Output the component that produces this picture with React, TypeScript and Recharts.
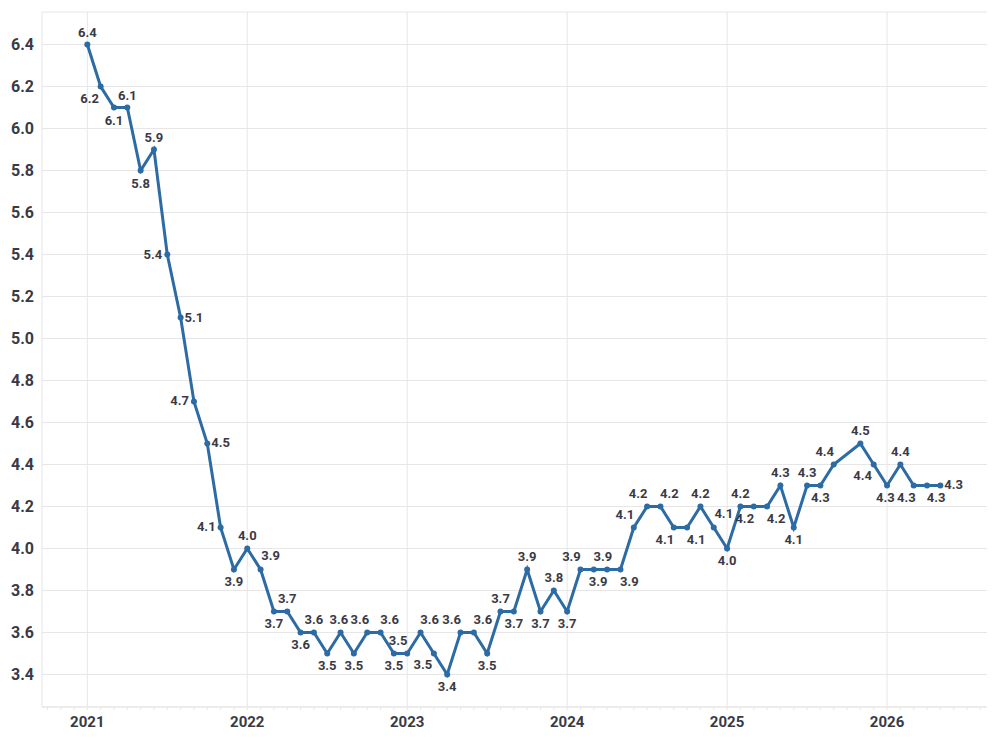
import {
  LineChart,
  Line,
  XAxis,
  YAxis,
  CartesianGrid,
  ReferenceLine,
  LabelList,
} from "recharts";

const years = [2021, 2022, 2023, 2024, 2025, 2026];

// monthly rate, one list per year (null = no release that month)
const rate2021 = [6.4, 6.2, 6.1, 6.1, 5.8, 5.9, 5.4, 5.1, 4.7, 4.5, 4.1, 3.9];
const rate2022 = [4.0, 3.9, 3.7, 3.7, 3.6, 3.6, 3.5, 3.6, 3.5, 3.6, 3.6, 3.5];
const rate2023 = [3.5, 3.6, 3.5, 3.4, 3.6, 3.6, 3.5, 3.7, 3.7, 3.9, 3.7, 3.8];
const rate2024 = [3.7, 3.9, 3.9, 3.9, 3.9, 4.1, 4.2, 4.2, 4.1, 4.1, 4.2, 4.1];
const rate2025 = [4.0, 4.2, 4.2, 4.2, 4.3, 4.1, 4.3, 4.3, 4.4, null, 4.5, 4.4];
const rate2026 = [4.3, 4.4, 4.3, 4.3, 4.3];

const yTicks = [3.4, 3.6, 3.8, 4.0, 4.2, 4.4, 4.6, 4.8, 5.0, 5.2, 5.4, 5.6, 5.8, 6.0, 6.2, 6.4];

const LINE = "#2c6ba4";
const GRID = "#e6e6e6";
const TEXT = "#3a3a46";

const W = 1000;
const H = 750;
const MARGIN = { top: 12, right: 13, bottom: 13, left: 0 };
const Y_AXIS_W = 42;
const X_AXIS_H = 30;
const X_DOMAIN = [-3.4, 67.5];
const Y_DOMAIN = [3.245, 6.555];

const data = [rate2021, rate2022, rate2023, rate2024, rate2025, rate2026]
  .flatMap((list, y) => list.map((v, m) => ({ t: y * 12 + m, v })))
  .filter((d) => d.v !== null) as { t: number; v: number }[];

const yearTicks = years.map((_, i) => i * 12);
const monthTicks: number[] = [];
for (let t = -3; t <= 67; t++) monthTicks.push(t);

// label placement: pick a side from the neighbours
const FORCE_TOP = new Set([24, 38]);
const sides: string[] = [];
data.forEach((d, i) => {
  const v = d.v;
  let s = "top";
  if (i === data.length - 1) s = "right";
  else if (i > 0) {
    const p = data[i - 1].v;
    const n = data[i + 1].v;
    if (FORCE_TOP.has(i)) s = "top";
    else if (p === v && v === n) s = "bottom";
    else if (v >= p && v >= n) s = "top";
    else if (v <= p && v <= n) s = "bottom";
    else if (p > v) {
      if (p - n >= 0.4) s = i % 2 === 0 ? "left" : "right";
      else s = sides[i - 2] === "bottom" ? "topRight" : "bottomLeft";
    } else s = "topLeft";
  }
  sides.push(s);
});

const LABEL_W = 19;
const LABEL_H = 10;

function baseOffset(i: number) {
  const s = sides[i];
  let dx = 0;
  let dy = 0;
  let anchor: "middle" | "start" | "end" = "middle";
  if (s === "top") dy = -8;
  if (s === "bottom") dy = 17;
  if (s === "left") { dx = -5; dy = 4; anchor = "end"; }
  if (s === "right") { dx = 4; dy = 4; anchor = "start"; }
  if (s === "topLeft") { dx = -9; dy = -8; }
  if (s === "topRight") { dx = 10; dy = -9; }
  if (s === "bottomLeft") { dx = -11; dy = 16; }
  if (s === "top" || s === "bottom") {
    if (sides[i - 1] === s) dx += 9;
    if (sides[i + 1] === s) dx -= 9;
  }
  return { dx, dy, anchor };
}

// rough pixel scale of the plot, used only to untangle overlapping labels
const plotW = W - MARGIN.left - MARGIN.right - Y_AXIS_W;
const plotH = H - MARGIN.top - MARGIN.bottom - X_AXIS_H;
const pxX = plotW / (X_DOMAIN[1] - X_DOMAIN[0]);
const pxY = plotH / (Y_DOMAIN[1] - Y_DOMAIN[0]);

const offsets = data.map((_, i) => baseOffset(i));
const boxes = data.map((d, i) => {
  const o = offsets[i];
  const x = d.t * pxX + o.dx;
  const left = o.anchor === "middle" ? x - LABEL_W / 2 : o.anchor === "start" ? x : x - LABEL_W;
  const base = -d.v * pxY + o.dy;
  return { left, top: base - LABEL_H, shift: 0 };
});
for (let k = 0; k < 30; k++) {
  for (let i = 0; i < boxes.length; i++) {
    for (let j = i + 1; j < Math.min(boxes.length, i + 4); j++) {
      const a = boxes[i];
      const b = boxes[j];
      const al = a.left + a.shift;
      const bl = b.left + b.shift;
      const vo = Math.min(a.top, b.top) + LABEL_H - Math.max(a.top, b.top);
      const ho = Math.min(al, bl) + LABEL_W + 2 - Math.max(al, bl);
      if (vo > 0 && ho > 0) {
        const push = ho / 2;
        if (al <= bl) { a.shift -= push; b.shift += push; }
        else { a.shift += push; b.shift -= push; }
      }
    }
  }
}

function PointLabel(props: any) {
  const { x, y, value, index } = props;
  const o = offsets[index];
  return (
    <text
      x={x + o.dx + boxes[index].shift}
      y={y + o.dy}
      textAnchor={o.anchor}
      fontSize={13}
      fontWeight={700}
      fill={TEXT}
      fontFamily="Roboto, sans-serif"
    >
      {Number(value).toFixed(1)}
    </text>
  );
}

function MonthTick(props: any) {
  const { x, y, payload } = props;
  const t = payload.value;
  if (t % 12 !== 0) return null;
  return (
    <text
      x={x}
      y={y}
      dy={15}
      textAnchor="middle"
      fontSize={15}
      fontWeight={700}
      fill={TEXT}
      fontFamily="Roboto, sans-serif"
    >
      {years[t / 12]}
    </text>
  );
}

export default function App() {
  return (
    <div style={{ position: "absolute", left: 0, top: 0, background: "#fff" }}>
      <LineChart width={W} height={H} data={data} margin={MARGIN}>
        <CartesianGrid stroke={GRID} vertical={false} />
        <XAxis
          type="number"
          dataKey="t"
          domain={X_DOMAIN}
          ticks={monthTicks}
          interval={0}
          height={X_AXIS_H}
          axisLine={{ stroke: GRID }}
          tickLine={{ stroke: GRID }}
          tickSize={3}
          tick={<MonthTick />}
        />
        <YAxis
          width={Y_AXIS_W}
          domain={Y_DOMAIN}
          ticks={yTicks}
          interval={0}
          axisLine={{ stroke: GRID }}
          tickLine={false}
          tickFormatter={(v: number) => v.toFixed(1)}
          tick={{ fill: TEXT, fontSize: 16, fontWeight: 700, fontFamily: "Roboto, sans-serif" }}
        />
        {yearTicks.map((t) => (
          <ReferenceLine key={t} x={t} stroke={GRID} />
        ))}
        <Line
          dataKey="v"
          stroke={LINE}
          strokeWidth={3}
          dot={{ r: 3, fill: LINE, stroke: LINE, strokeWidth: 0 }}
          activeDot={false}
          isAnimationActive={false}
        >
          <LabelList dataKey="v" content={<PointLabel />} />
        </Line>
      </LineChart>
    </div>
  );
}
